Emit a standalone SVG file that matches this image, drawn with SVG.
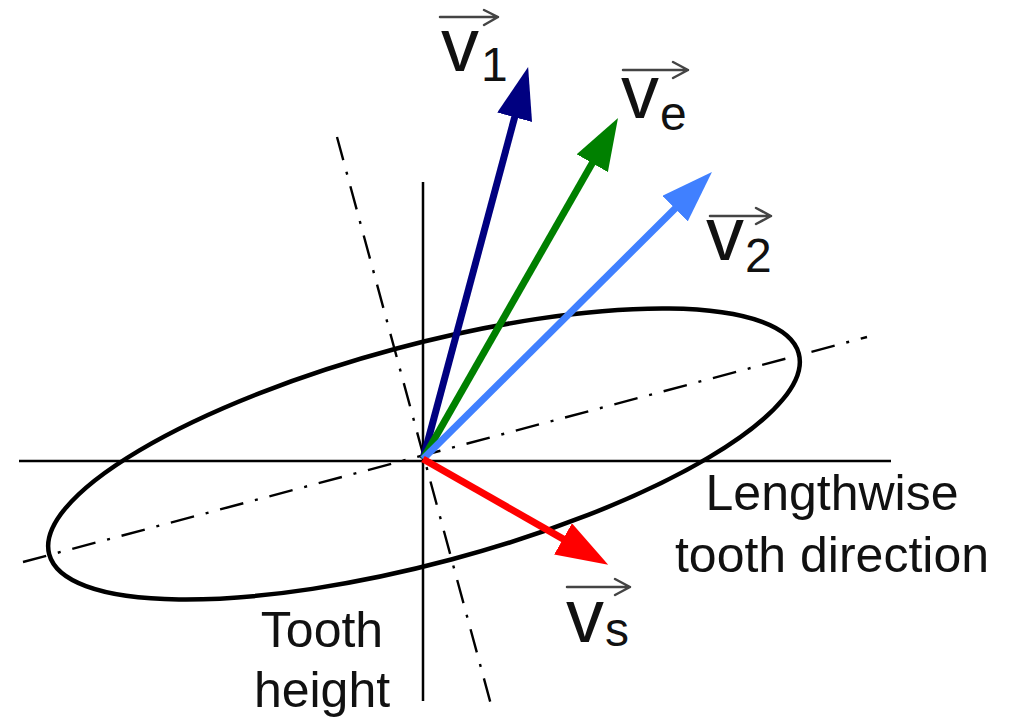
<svg xmlns="http://www.w3.org/2000/svg" width="1014" height="718" viewBox="0 0 1014 718">
<style>
.axis{stroke:#000;stroke-width:2.5;fill:none}
.dd{stroke:#000;stroke-width:2.4;fill:none;stroke-dasharray:24 12 3 12}
.ell{stroke:#000;stroke-width:4.5;fill:none}
.vec{stroke-width:7;fill:none}
.lbl{font-family:"Liberation Sans",Arial,sans-serif;fill:#111}
.vv{font-size:76px}
.sub{font-size:48px}
.txt{font-family:"Liberation Sans",Arial,sans-serif;font-size:50px;fill:#111;text-anchor:middle}
.ov{stroke:#444;stroke-width:2.5;fill:none;stroke-linecap:round;stroke-linejoin:round}
</style>
<defs>
<marker id="hN" viewBox="0 -18 52 36" markerWidth="52" markerHeight="36" refX="4" refY="0" orient="auto" markerUnits="userSpaceOnUse"><path d="M0,-18 L52,0 L0,18 z" fill="#000080"/></marker>
<marker id="hG" viewBox="0 -18 52 36" markerWidth="52" markerHeight="36" refX="4" refY="0" orient="auto" markerUnits="userSpaceOnUse"><path d="M0,-18 L52,0 L0,18 z" fill="#008000"/></marker>
<marker id="hB" viewBox="0 -18 52 36" markerWidth="52" markerHeight="36" refX="4" refY="0" orient="auto" markerUnits="userSpaceOnUse"><path d="M0,-18 L52,0 L0,18 z" fill="#4080FF"/></marker>
<marker id="hR" viewBox="0 -18 52 36" markerWidth="52" markerHeight="36" refX="4" refY="0" orient="auto" markerUnits="userSpaceOnUse"><path d="M0,-18 L52,0 L0,18 z" fill="#FF0000"/></marker>
</defs>
<rect width="1014" height="718" fill="#fff"/>
<g id="axes">
<line class="axis" x1="19" y1="461" x2="891" y2="461"/>
<line class="axis" x1="423" y1="182" x2="423" y2="701"/>
<line class="dd" x1="23" y1="562" x2="867" y2="337"/>
<line class="dd" x1="337" y1="137" x2="493" y2="712"/>
</g>
<g id="tooth-ellipse">
<ellipse class="ell" cx="424" cy="454" rx="388" ry="109" transform="rotate(-15 424 454)"/>
</g>
<g id="connectors">
<line class="vec" stroke="#000080" x1="423" y1="459" x2="515.7" y2="113.4" marker-end="url(#hN)"/>
<line class="vec" stroke="#008000" x1="423" y1="459" x2="594.2" y2="159.7" marker-end="url(#hG)"/>
<line class="vec" stroke="#4080FF" x1="423" y1="459" x2="677.9" y2="205.8" marker-end="url(#hB)"/>
<line class="vec" stroke="#FF0000" x1="423" y1="459" x2="566.5" y2="540.9" marker-end="url(#hR)"/>
</g>
<g id="label-v1">
<text class="lbl" x="441" y="71"><tspan class="vv">v</tspan></text>
<text class="lbl sub" x="481" y="81">1</text>
<path class="ov" d="M440,17 L498,17 M484,10 L498,17 L484,25"/>
</g>
<g id="label-ve">
<text class="lbl" x="621" y="118"><tspan class="vv">v</tspan></text>
<text class="lbl sub" x="660" y="130">e</text>
<path class="ov" d="M623,70 L688,70 M673,62 L688,70 L673,78"/>
</g>
<g id="label-v2">
<text class="lbl" x="706" y="260"><tspan class="vv">v</tspan></text>
<text class="lbl sub" x="745" y="272">2</text>
<path class="ov" d="M710,216 L771,216 M756,208 L771,216 L756,224"/>
</g>
<g id="label-vs">
<text class="lbl" x="566" y="642"><tspan class="vv">v</tspan></text>
<text class="lbl sub" x="605" y="646">s</text>
<path class="ov" d="M567,587 L630,587 M615,579 L630,587 L615,595"/>
</g>
<g id="label-lengthwise">
<text class="txt" x="832" y="510">Lengthwise</text>
<text class="txt" x="832" y="572">tooth direction</text>
</g>
<g id="label-height">
<text class="txt" x="322" y="647">Tooth</text>
<text class="txt" x="322" y="707">height</text>
</g>
</svg>
